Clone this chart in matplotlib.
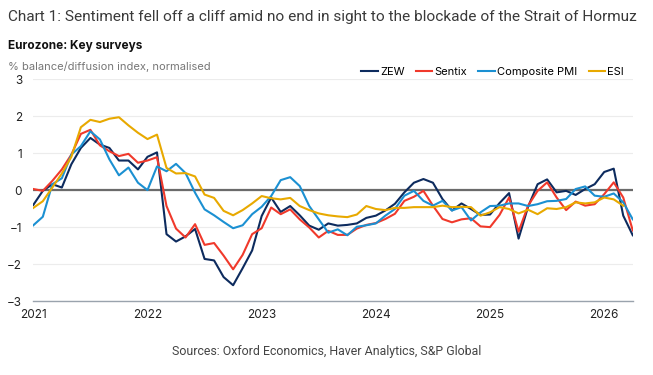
import numpy as np
import matplotlib
matplotlib.use('Agg')
import matplotlib.pyplot as plt

# 月度数据：2021年1月起（ZEW/Sentix/PMI 到 2026年4月，ESI 到 2026年3月）
zew = [-0.40, -0.02, 0.16, 0.07, 0.70, 1.14, 1.41, 1.23, 1.14, 0.80, 0.80, 0.56,
       0.90, 1.02, -1.19, -1.39, -1.25, -1.05, -1.86, -1.90, -2.35, -2.57, -2.11, -1.63,
       -0.70, -0.20, -0.59, -0.43, -0.68, -0.96, -1.07, -0.90, -0.96, -0.94, -0.90, -0.75,
       -0.69, -0.55, -0.37, -0.06, 0.20, 0.30, 0.20, -0.24, -0.55, -0.36, -0.51, -0.67,
       -0.66, -0.35, -0.08, -1.31, -0.45, 0.16, 0.29, -0.06, -0.02, -0.13, 0.03, 0.16,
       0.49, 0.58, -0.69, -1.22]
sentix = [0.03, -0.02, 0.25, 0.56, 0.96, 1.52, 1.63, 1.21, 1.05, 0.92, 0.98, 0.74,
          0.80, 0.89, -0.43, -1.04, -1.28, -0.92, -1.48, -1.43, -1.77, -2.14, -1.75, -1.19,
          -1.03, -0.47, -0.65, -0.52, -0.79, -1.01, -1.28, -1.10, -1.21, -1.21, -1.04, -0.94,
          -0.89, -0.78, -0.64, -0.29, -0.18, -0.02, -0.42, -0.78, -0.87, -0.79, -0.76, -0.98,
          -1.00, -0.67, -0.20, -1.12, -0.42, -0.02, 0.21, -0.20, -0.54, -0.31, -0.42, -0.38,
          -0.11, 0.21, -0.20, -1.09]
pmi = [-0.95, -0.72, 0.16, 0.32, 0.96, 1.19, 1.59, 1.37, 0.83, 0.40, 0.61, 0.20,
       0.00, 0.64, 0.51, 0.71, 0.46, -0.07, -0.52, -0.68, -0.86, -1.03, -0.95, -0.65,
       -0.45, -0.16, 0.27, 0.35, 0.11, -0.43, -0.79, -1.15, -1.06, -1.22, -0.99, -0.95,
       -0.90, -0.69, -0.51, -0.15, -0.02, -0.29, -0.42, -0.29, -0.55, -0.46, -0.82, -0.60,
       -0.43, -0.42, -0.36, -0.36, -0.43, -0.38, -0.30, -0.29, -0.24, 0.03, 0.10, -0.15,
       -0.18, -0.09, -0.33, -0.79]
esi = [-0.48, -0.30, 0.07, 0.45, 0.90, 1.70, 1.90, 1.84, 1.93, 1.97, 1.75, 1.55,
       1.38, 1.50, 0.60, 0.45, 0.46, 0.37, -0.12, -0.21, -0.56, -0.68, -0.54, -0.36,
       -0.16, -0.22, -0.25, -0.21, -0.43, -0.54, -0.63, -0.68, -0.71, -0.73, -0.66, -0.43,
       -0.51, -0.54, -0.48, -0.48, -0.46, -0.46, -0.46, -0.42, -0.46, -0.45, -0.46, -0.69,
       -0.60, -0.46, -0.51, -0.63, -0.53, -0.65, -0.49, -0.51, -0.46, -0.33, -0.36, -0.33,
       -0.20, -0.25, -0.42]
years = ['2021', '2022', '2023', '2024', '2025', '2026']
y_ticks = [-3, -2, -1, 0, 1, 2, 3]

names = ['ZEW', 'Sentix', 'Composite PMI', 'ESI']
colors = ['#0d2b5e', '#f0392b', '#1b90d2', '#e8a900']

plt.rcParams['font.family'] = ['Inter', 'DejaVu Sans']

fig = plt.figure(figsize=(6.53, 3.75), dpi=100)
ax = fig.add_axes([0.051, 0.197, 0.918, 0.592])

for name, data, c in zip(names, [zew, sentix, pmi, esi], colors):
    ax.plot(np.arange(len(data)), data, color=c, lw=1.5, label=name)

ax.axhline(0, color='#6b6b6b', lw=1.6, zorder=1)
ax.set_xlim(0, 63)
ax.set_ylim(-3, 3)
ax.set_yticks(y_ticks)
ax.set_yticklabels([str(v).replace('-', '\u2212') for v in y_ticks])
ax.set_xticks(np.arange(len(years)) * 12)
ax.set_xticklabels(years)
ax.grid(axis='y', color='#ececec', lw=0.8)
ax.set_axisbelow(True)
for s in ['top', 'right', 'left']:
    ax.spines[s].set_visible(False)
ax.spines['bottom'].set_color('#9aa3ad')
ax.spines['bottom'].set_linewidth(1.0)
ax.tick_params(length=0, labelsize=8.5, colors='#222222')
ax.tick_params(axis='x', pad=6)
ax.tick_params(axis='y', pad=8)

# 标题和注释（Roboto 缩小字号以适应宽度）
fig.text(0.012, 0.955, 'Chart 1: Sentiment fell off a cliff amid no end in sight to the blockade of the Strait of Hormuz',
         fontsize=11.1, color='#3a3a3a', family='Roboto', va='center')
fig.text(0.012, 0.877, 'Eurozone: Key surveys', fontsize=8.5, fontweight='bold', color='#111111', va='center')
fig.text(0.012, 0.823, '% balance/diffusion index, normalised', fontsize=8, color='#777777', va='center')
fig.text(0.5, 0.062, 'Sources: Oxford Economics, Haver Analytics, S&P Global',
         fontsize=8.9, color='#444444', family='Roboto', ha='center', va='center')

leg = ax.legend(loc='lower right', bbox_to_anchor=(0.995, 0.985), ncol=4, frameon=False,
                fontsize=8, handlelength=1.5, handletextpad=0.2, columnspacing=1.0,
                borderaxespad=0.1)

fig.savefig('out.png', dpi=100)
